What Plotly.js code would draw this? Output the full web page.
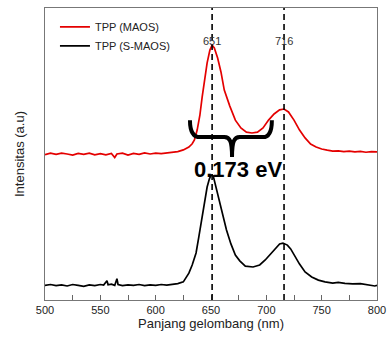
<!DOCTYPE html>
<html>
<head>
<meta charset="utf-8">
<script src="https://cdn.plot.ly/plotly-3.0.1.min.js"></script>
<style>html,body{margin:0;padding:0;background:#fff;}#chart{width:387px;height:347px;}</style>
</head>
<body>
<div id="chart"></div>
<script>
// Wavelength (nm) and intensity (a.u., arbitrary offset scale)
const redWavelength = [500,505,510,515,520,525,530,535,540,545,550,555,560,563,565,570,575,580,585,590,595,600,605,610,615,620,625,630,633,635,637.5,640,642,644,646.5,649,651,653,656,659,662,667,672,677,682,687,692,697,702,707,712,716,720,725,730,735,740,745,750,755,760,765,770,775,780,785,790,795,800];
const redIntensity = [0.498,0.503,0.499,0.503,0.500,0.496,0.502,0.499,0.503,0.497,0.501,0.497,0.502,0.488,0.500,0.503,0.496,0.502,0.499,0.504,0.500,0.503,0.501,0.504,0.505,0.508,0.514,0.524,0.535,0.548,0.582,0.634,0.695,0.753,0.812,0.856,0.873,0.863,0.829,0.781,0.719,0.664,0.616,0.589,0.575,0.572,0.575,0.589,0.616,0.637,0.651,0.654,0.644,0.616,0.582,0.555,0.534,0.524,0.517,0.513,0.510,0.511,0.508,0.510,0.507,0.509,0.506,0.508,0.507];

const blackWavelength = [500,505,510,515,520,525,530,535,540,545,550,553,556,557,560,563,565,566,570,575,580,585,590,595,600,605,610,615,620,625,630,633,636.5,639,642,644,646.5,648.5,650,652,654,657,660,664,668,672,676,681,688,694,699,704,708,712,715,719,722,726,730,735,741,747,753,760,765,771,778,785,792,798,800];
const blackIntensity = [0.050,0.053,0.049,0.052,0.048,0.053,0.050,0.047,0.052,0.049,0.053,0.051,0.066,0.052,0.054,0.050,0.073,0.053,0.049,0.052,0.050,0.053,0.049,0.052,0.050,0.053,0.051,0.054,0.056,0.062,0.092,0.120,0.161,0.216,0.284,0.342,0.387,0.414,0.428,0.425,0.394,0.342,0.295,0.240,0.192,0.154,0.134,0.116,0.113,0.120,0.137,0.158,0.178,0.192,0.195,0.188,0.175,0.147,0.123,0.096,0.079,0.068,0.062,0.058,0.060,0.057,0.055,0.056,0.052,0.048,0.050];

const seriesNames = ['TPP (MAOS)', 'TPP (S-MAOS)'];
const peakPositions = [651, 716];
const peakLabels = ['651', '716'];
const gapLabel = '0.173 eV';
const xTickValues = [500,550,600,650,700,750,800];

const traces = [
  {x: redWavelength, y: redIntensity, name: seriesNames[0], type: 'scatter', mode: 'lines',
   line: {color: 'rgb(228,0,0)', width: 1.7}},
  {x: blackWavelength, y: blackIntensity, name: seriesNames[1], type: 'scatter', mode: 'lines',
   line: {color: '#000', width: 1.7}}
];

const shapes = peakPositions.map(p => ({
  type: 'line', xref: 'x', yref: 'paper', x0: p, x1: p, y0: 0, y1: 1,
  line: {color: '#000', width: 1.6, dash: '6px,4px'}, layer: 'above'
}));
shapes.push({
  type: 'path', xref: 'x', yref: 'y', layer: 'above',
  path: 'M 631,0.616 C 631,0.575 634,0.558 640,0.558 L 662,0.558 C 667,0.558 669,0.545 669,0.490 C 669,0.545 671,0.558 676,0.558 L 697,0.558 C 702,0.558 705,0.575 705,0.616',
  line: {color: '#000', width: 4}
});

const annotations = peakPositions.map((p, i) => ({
  x: p, y: 0.914, xref: 'x', yref: 'paper', text: peakLabels[i], showarrow: false,
  font: {family: 'Liberation Sans, Arial, sans-serif', size: 11, color: '#333'}
}));
annotations.push({
  x: 674, y: 0.447, xref: 'x', yref: 'y', text: '<b>' + gapLabel + '</b>', showarrow: false,
  font: {family: 'Liberation Sans, Arial, sans-serif', size: 22, color: '#000'}
});

const layout = {
  width: 387, height: 347,
  margin: {l: 45, r: 10, t: 8, b: 47},
  paper_bgcolor: '#fff', plot_bgcolor: '#fff',
  font: {family: 'Liberation Sans, Arial, sans-serif', color: '#222'},
  showlegend: true,
  legend: {x: 0.03, y: 0.985, xanchor: 'left', yanchor: 'top', bgcolor: 'rgba(0,0,0,0)',
           font: {size: 11, color: '#222'}, tracegroupgap: 0, itemwidth: 30},
  xaxis: {
    range: [500, 800], tickvals: xTickValues, ticks: 'inside', ticklen: 5, tickcolor: '#666',
    minor: {dtick: 25, ticks: 'inside', ticklen: 5, tickcolor: '#666'},
    showline: true, linecolor: '#777', linewidth: 1, mirror: true, showgrid: false, zeroline: false,
    tickfont: {size: 11, color: '#222'},
    title: {text: 'Panjang gelombang (nm)', font: {size: 13, color: '#222'}, standoff: 3}
  },
  yaxis: {
    range: [0, 1], showticklabels: false, ticks: '', showline: true, linecolor: '#777', linewidth: 1,
    mirror: true, showgrid: false, zeroline: false,
    title: {text: 'Intensitas (a.u)', font: {size: 13, color: '#222'}, standoff: 16}
  },
  shapes: shapes,
  annotations: annotations
};

Plotly.newPlot('chart', traces, layout, {displayModeBar: false, staticPlot: true});
</script>
</body>
</html>
